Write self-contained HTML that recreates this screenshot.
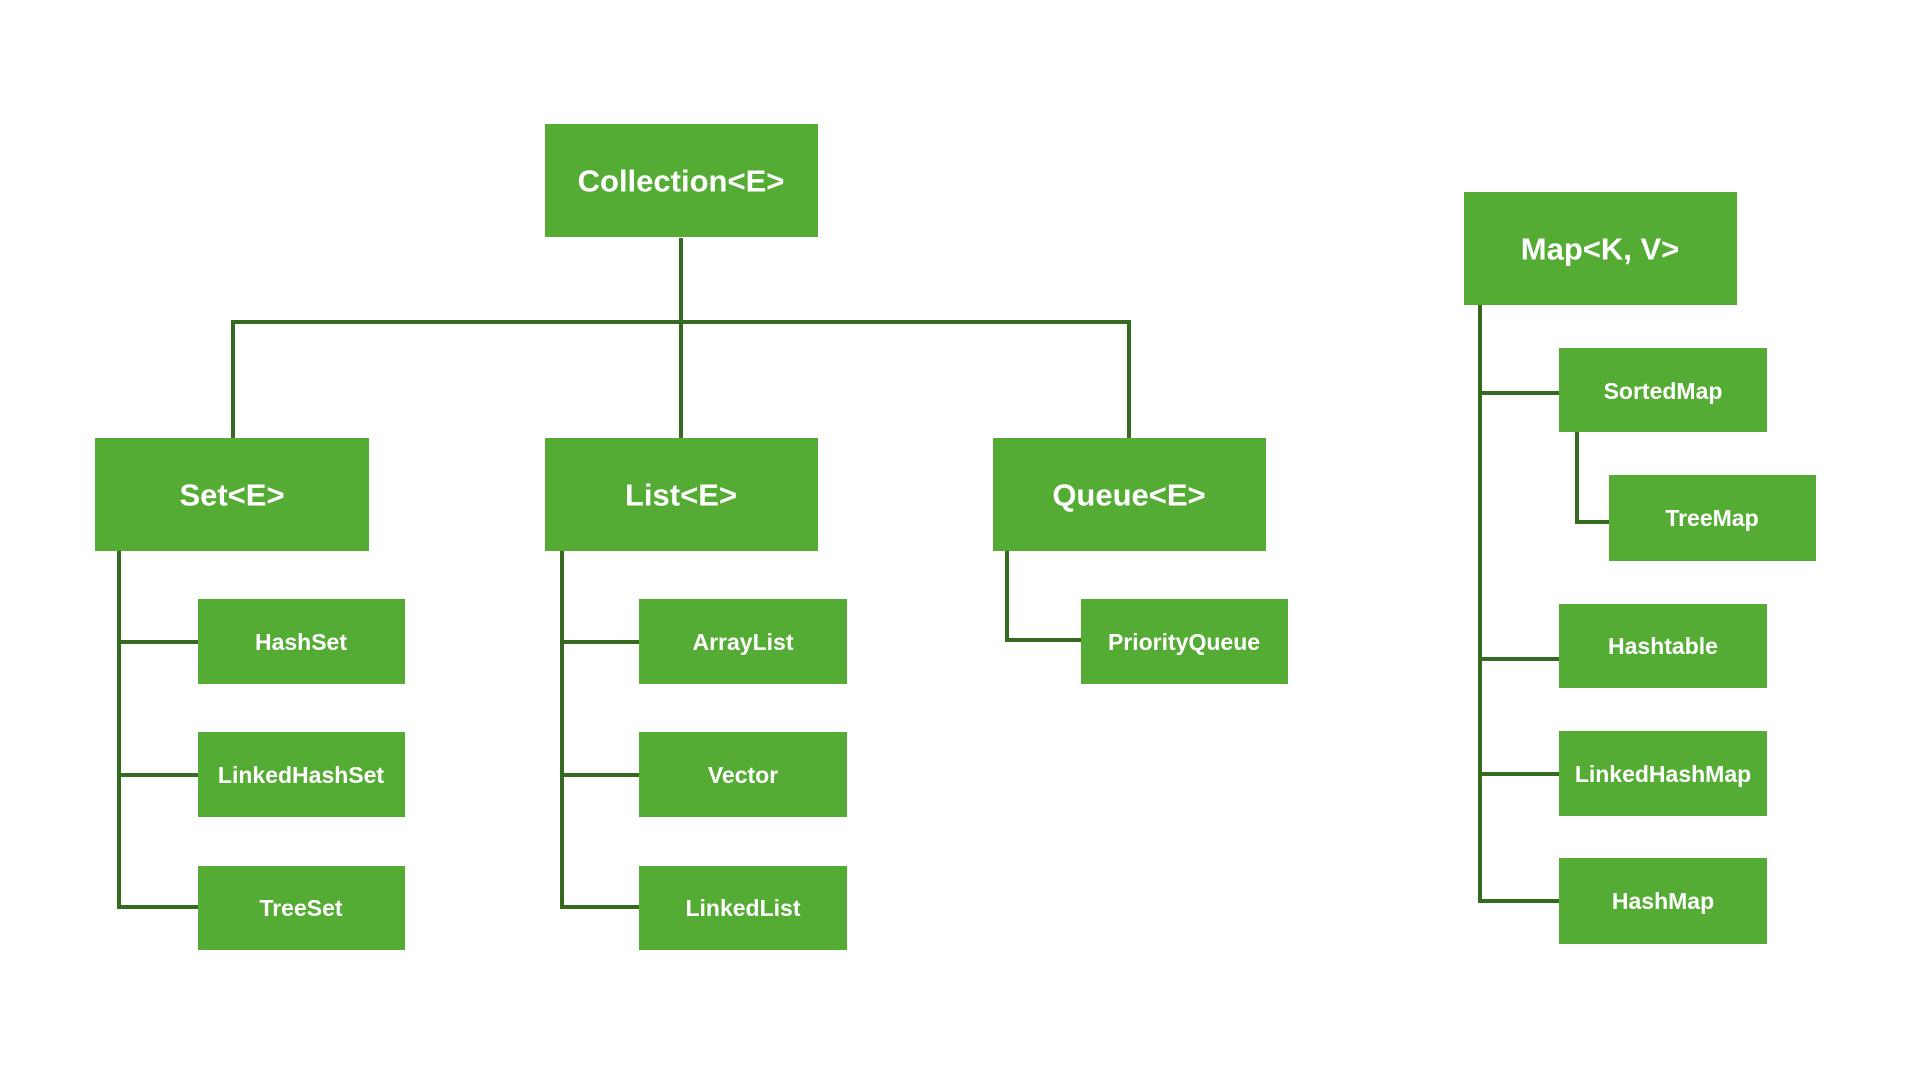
<!DOCTYPE html>
<html><head><meta charset="utf-8"><style>
html,body{margin:0;padding:0;background:#fff;}
svg{display:block;}
text{font-family:"Liberation Sans",Arial,sans-serif;font-weight:bold;fill:#fff;text-anchor:middle;dominant-baseline:central;}
.b{font-size:31px;}
.s{font-size:23px;}
rect{fill:#55ac34;}
line,polyline{stroke:#346b1f;stroke-width:4;fill:none;}
</style></head><body>
<svg width="1920" height="1080" viewBox="0 0 1920 1080">
<!-- connectors -->
<line x1="681" y1="238" x2="681" y2="438"/>
<polyline points="233,438 233,322 1129,322 1129,438"/>
<!-- Set -->
<line x1="119" y1="551" x2="119" y2="907"/>
<line x1="117" y1="642" x2="198" y2="642"/>
<line x1="117" y1="775" x2="198" y2="775"/>
<line x1="117" y1="907" x2="198" y2="907"/>
<!-- List -->
<line x1="562" y1="551" x2="562" y2="907"/>
<line x1="560" y1="642" x2="639" y2="642"/>
<line x1="560" y1="775" x2="639" y2="775"/>
<line x1="560" y1="907" x2="639" y2="907"/>
<!-- Queue -->
<polyline points="1007,551 1007,640 1081,640"/>
<!-- Map -->
<polyline points="1480,305 1480,901 1559,901"/>
<line x1="1480" y1="393" x2="1559" y2="393"/>
<line x1="1480" y1="659" x2="1559" y2="659"/>
<line x1="1480" y1="774" x2="1559" y2="774"/>
<polyline points="1577,432 1577,522 1609,522"/>

<!-- boxes -->
<rect x="545" y="124" width="273" height="113"/><text class="b" x="681" y="181">Collection&lt;E&gt;</text>
<rect x="95" y="438" width="274" height="113"/><text class="b" x="232" y="495">Set&lt;E&gt;</text>
<rect x="545" y="438" width="273" height="113"/><text class="b" x="681" y="495">List&lt;E&gt;</text>
<rect x="993" y="438" width="273" height="113"/><text class="b" x="1129" y="495">Queue&lt;E&gt;</text>
<rect x="1464" y="192" width="273" height="113"/><text class="b" x="1600" y="249">Map&lt;K, V&gt;</text>

<rect x="198" y="599" width="207" height="85"/><text class="s" x="301" y="642">HashSet</text>
<rect x="198" y="732" width="207" height="85"/><text class="s" x="301" y="775">LinkedHashSet</text>
<rect x="198" y="866" width="207" height="84"/><text class="s" x="301" y="908">TreeSet</text>

<rect x="639" y="599" width="208" height="85"/><text class="s" x="743" y="642">ArrayList</text>
<rect x="639" y="732" width="208" height="85"/><text class="s" x="743" y="775">Vector</text>
<rect x="639" y="866" width="208" height="84"/><text class="s" x="743" y="908">LinkedList</text>

<rect x="1081" y="599" width="207" height="85"/><text class="s" x="1184" y="642">PriorityQueue</text>

<rect x="1559" y="348" width="208" height="84"/><text class="s" x="1663" y="391">SortedMap</text>
<rect x="1609" y="475" width="207" height="86"/><text class="s" x="1712" y="518">TreeMap</text>
<rect x="1559" y="604" width="208" height="84"/><text class="s" x="1663" y="646">Hashtable</text>
<rect x="1559" y="731" width="208" height="85"/><text class="s" x="1663" y="774">LinkedHashMap</text>
<rect x="1559" y="858" width="208" height="86"/><text class="s" x="1663" y="901">HashMap</text>
</svg>
</body></html>
